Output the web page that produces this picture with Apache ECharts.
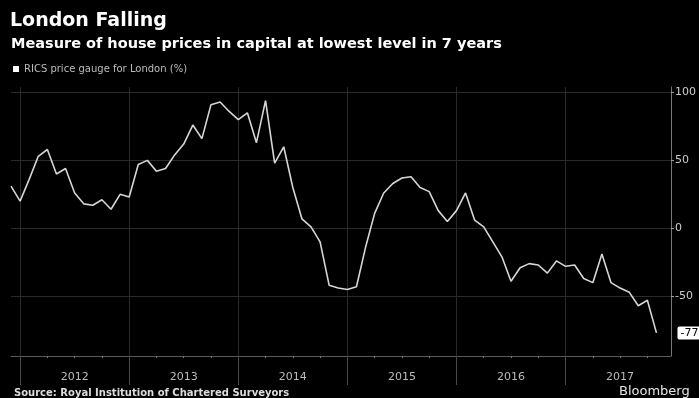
<!DOCTYPE html>
<html>
<head>
<meta charset="utf-8">
<script src="https://cdn.jsdelivr.net/npm/echarts@6/dist/echarts.min.js"></script>
<style>
  html, body { margin: 0; padding: 0; background: #000; }
  #chart { width: 699px; height: 398px; }
</style>
</head>
<body>
<div id="chart"></div>
<script>
// RICS price gauge for London, monthly from Nov 2011 to Oct 2017
// x is counted in months from the start of 2012, each reading sits at month end
const years = ['2012', '2013', '2014', '2015', '2016', '2017']
const firstMonth = -1
const gauge = [
  31, 20,
  36, 53, 58, 40, 44, 26, 18, 17, 21, 14, 25, 23,
  47, 50, 42, 44, 54, 62, 76, 66, 91, 93, 86, 80,
  85, 63, 94, 48, 60, 30, 7, 1, -10, -42, -44, -45,
  -43, -14, 11, 26, 33, 37, 38, 30, 27, 13, 5, 13,
  26, 6, 1, -10, -21, -39, -29, -26, -27, -33, -24, -28,
  -27, -37, -40, -19, -40, -44, -47, -57, -53, -77
]
const yTicks = [100, 50, 0, -50]

const yearStarts = years.map((y, i) => i * 12)
const yearMids = years.map((y, i) => i * 12 + 6)
const quarters = []
years.forEach((y, i) => { quarters.push(i * 12 + 3, i * 12 + 6, i * 12 + 9) })

const FONT = 'DejaVu Sans'
const chart = echarts.init(document.getElementById('chart'), null, { width: 699, height: 398 })

chart.setOption({
  backgroundColor: '#000',
  animation: false,
  title: [
    {
      text: 'London Falling', left: 10, top: 12, padding: 0,
      textStyle: { color: '#fff', fontSize: 19, fontWeight: 'bold', fontFamily: FONT }
    },
    {
      text: 'Measure of house prices in capital at lowest level in 7 years', left: 11, top: 37, padding: 0,
      textStyle: { color: '#fff', fontSize: 14.5, fontWeight: 'bold', fontFamily: FONT }
    },
    {
      text: 'Source: Royal Institution of Chartered Surveyors', left: 14, top: 388, padding: 0,
      textStyle: { color: '#ddd', fontSize: 10, fontWeight: 'bold', fontFamily: FONT }
    },
    {
      text: 'Bloomberg', left: 619, top: 385, padding: 0,
      textStyle: { color: '#e6e6e6', fontSize: 13, fontWeight: 'normal', fontFamily: FONT }
    }
  ],
  legend: {
    left: 13, top: 64, padding: 0,
    icon: 'rect', itemWidth: 6, itemHeight: 6, itemGap: 3,
    textStyle: { color: '#bbb', fontSize: 10, fontFamily: FONT },
    data: [{ name: 'RICS price gauge for London (%)', itemStyle: { color: '#fff' } }]
  },
  grid: { left: 11, right: 24, top: 87, bottom: 42 },
  xAxis: [
    {
      type: 'value', min: firstMonth, max: 71.6,
      axisLine: { show: true, onZero: false, lineStyle: { color: '#5a5a5a', width: 1 } },
      axisTick: { show: true, customValues: yearStarts, length: 29, lineStyle: { color: '#4a4a4a' } },
      axisLabel: {
        show: true, customValues: yearMids, margin: 16,
        color: '#bbb', fontSize: 11, fontFamily: FONT,
        formatter: v => years[Math.round((v - 6) / 12)]
      },
      splitLine: { show: true, lineStyle: { color: '#2a2a2a', width: 1 } }
    },
    {
      type: 'value', min: firstMonth, max: 71.6, position: 'bottom',
      axisLine: { show: false, onZero: false },
      axisTick: { show: true, customValues: quarters, length: 2, lineStyle: { color: '#777' } },
      axisLabel: { show: false },
      splitLine: { show: false }
    }
  ],
  yAxis: {
    type: 'value', position: 'right', min: -94, max: 104,
    axisLine: { show: true, onZero: false, lineStyle: { color: '#777', width: 1 } },
    axisTick: { show: true, customValues: yTicks, length: 3, lineStyle: { color: '#999' } },
    axisLabel: { customValues: yTicks, margin: 4, color: '#ccc', fontSize: 11, fontFamily: FONT },
    splitLine: { show: true, lineStyle: { color: '#2a2a2a', width: 1 } }
  },
  series: [{
    name: 'RICS price gauge for London (%)',
    type: 'line',
    xAxisIndex: 0,
    data: gauge.map((v, i) => [firstMonth + i, v]),
    showSymbol: false,
    symbol: 'none',
    lineStyle: { color: '#d6d6d6', width: 1.6 },
    itemStyle: { color: '#fff' },
    endLabel: {
      show: true, distance: 21,
      formatter: p => String(p.value[1]),
      backgroundColor: '#fff', color: '#000',
      fontSize: 11, fontFamily: FONT, padding: [1, 2, 1, 3], borderRadius: 2
    }
  }]
})
</script>
</body>
</html>
